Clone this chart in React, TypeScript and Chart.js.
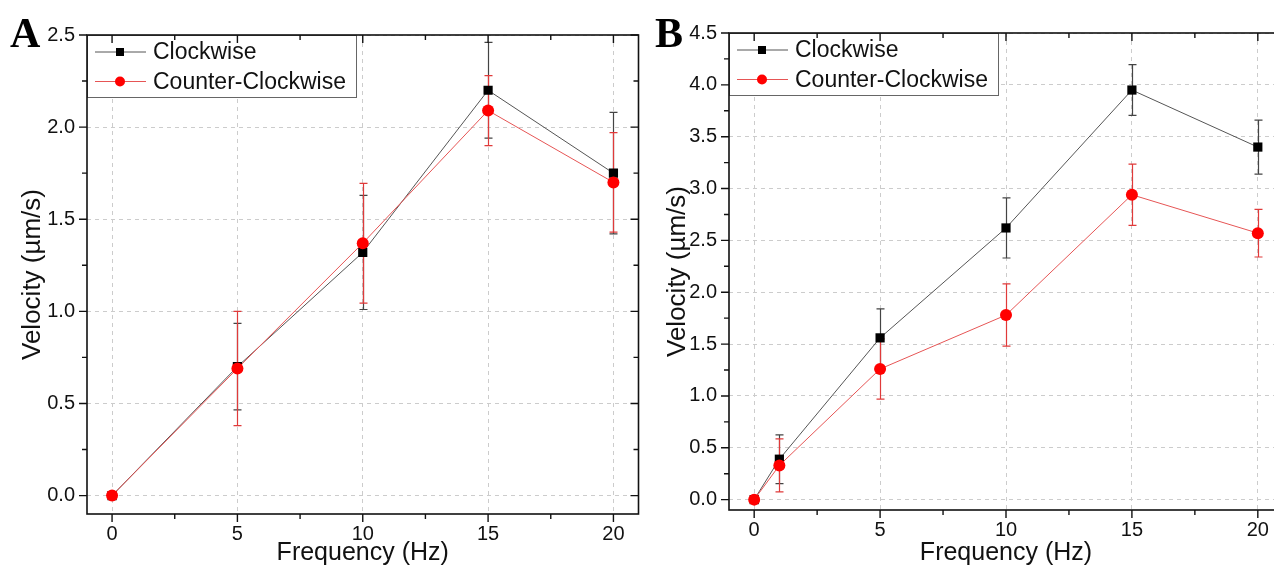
import React, { useEffect, useRef } from "react";
import { Chart, registerables } from "chart.js";

Chart.register(...registerables);

const FONT = '"Liberation Sans", Arial, Helvetica, sans-serif';

// ---------- data ----------
const seriesLabels = ["Clockwise", "Counter-Clockwise"];

const freqA = [0, 5, 10, 15, 20];
const cwA = [0, 0.7, 1.32, 2.2, 1.75];
const cwErrA = [0, 0.235, 0.31, 0.26, 0.33];
const ccwA = [0, 0.69, 1.37, 2.09, 1.7];
const ccwErrA = [0, 0.31, 0.325, 0.19, 0.27];

const freqB = [0, 1, 5, 10, 15, 20];
const cwB = [0, 0.39, 1.56, 2.62, 3.95, 3.4];
const cwErrB = [0, 0.235, 0.28, 0.29, 0.245, 0.26];
const ccwB = [0, 0.33, 1.26, 1.78, 2.94, 2.57];
const ccwErrB = [0, 0.255, 0.29, 0.3, 0.295, 0.23];

// ---------- ticks ----------
const xTicks = [0, 5, 10, 15, 20];
const xMinorTicks = [2.5, 7.5, 12.5, 17.5];
const yTicksA = [0, 0.5, 1.0, 1.5, 2.0, 2.5];
const yMinorA = [0.25, 0.75, 1.25, 1.75, 2.25];
const yTicksB = [0, 0.5, 1.0, 1.5, 2.0, 2.5, 3.0, 3.5, 4.0, 4.5];
const yMinorB = [0.25, 0.75, 1.25, 1.75, 2.25, 2.75, 3.25, 3.75, 4.25];

const xTitle = "Frequency (Hz)";
const yTitle = "Velocity (\u00b5m/s)";

const panelA = {
  letter: "A",
  freq: freqA, cw: cwA, cwErr: cwErrA, ccw: ccwA, ccwErr: ccwErrA,
  yMin: -0.1, yMax: 2.5, yTicks: yTicksA, yMinor: yMinorA,
  left: 0, yAxisWidth: 87, padTop: 35, padRight: 5, xAxisHeight: 53,
};
const panelB = {
  letter: "B",
  freq: freqB, cw: cwB, cwErr: cwErrB, ccw: ccwB, ccwErr: ccwErrB,
  yMin: -0.1, yMax: 4.5, yTicks: yTicksB, yMinor: yMinorB,
  left: 645, yAxisWidth: 84, padTop: 33, padRight: 7, xAxisHeight: 57,
};

const CANVAS_W = 645;
const CANVAS_H = 567;

const decorPlugin = {
  id: "panelDecor",
  beforeDatasetsDraw(chart: any) {
    const ctx = chart.ctx;
    const xs = chart.scales.x;
    const ys = chart.scales.y;
    chart.data.datasets.forEach((ds: any) => {
      ctx.save();
      ctx.strokeStyle = ds.errColor;
      ctx.lineWidth = 1.2;
      ds.data.forEach((p: any, j: number) => {
        const e = ds.errors[j];
        if (!e) return;
        const x = Math.round(xs.getPixelForValue(p.x)) + 0.5;
        const yt = ys.getPixelForValue(p.y + e);
        const yb = ys.getPixelForValue(p.y - e);
        ctx.beginPath();
        ctx.moveTo(x, yt);
        ctx.lineTo(x, yb);
        ctx.moveTo(x - 4, yt);
        ctx.lineTo(x + 4, yt);
        ctx.moveTo(x - 4, yb);
        ctx.lineTo(x + 4, yb);
        ctx.stroke();
      });
      ctx.restore();
    });
  },
  afterDraw(chart: any, _args: any, opts: any) {
    const ctx = chart.ctx;
    const { left, right, top, bottom } = chart.chartArea;
    const xs = chart.scales.x;
    const ys = chart.scales.y;
    ctx.save();

    // legend
    ctx.font = `23px ${FONT}`;
    const labels = chart.data.datasets.map((d: any) => d.label);
    const maxW = Math.max(...labels.map((l: string) => ctx.measureText(l).width));
    const lw = 66 + maxW + 10;
    const lh = 62;
    ctx.fillStyle = "#fff";
    ctx.fillRect(left, top, lw, lh);
    ctx.strokeStyle = "#666";
    ctx.lineWidth = 1;
    ctx.strokeRect(left + 0.5, top + 0.5, lw, lh);
    chart.data.datasets.forEach((ds: any, i: number) => {
      const y = top + 17 + i * 29.5;
      ctx.strokeStyle = ds.borderColor;
      ctx.lineWidth = 1;
      ctx.beginPath();
      ctx.moveTo(left + 8, y);
      ctx.lineTo(left + 59, y);
      ctx.stroke();
      ctx.fillStyle = ds.pointBackgroundColor;
      if (ds.pointStyle === "rect") {
        ctx.fillRect(left + 33 - 4, y - 4, 8, 8);
      } else {
        ctx.beginPath();
        ctx.arc(left + 33, y, 5, 0, Math.PI * 2);
        ctx.fill();
      }
      ctx.fillStyle = "#111";
      ctx.textBaseline = "middle";
      ctx.textAlign = "left";
      ctx.fillText(ds.label, left + 66, y + 1);
    });

    // frame
    ctx.strokeStyle = "#111";
    ctx.lineWidth = 1.6;
    ctx.strokeRect(left, top, right - left, bottom - top);

    // ticks
    ctx.lineWidth = 1.4;
    const drawX = (v: number, len: number) => {
      const x = xs.getPixelForValue(v);
      ctx.beginPath();
      ctx.moveTo(x, bottom);
      ctx.lineTo(x, bottom + len);
      ctx.moveTo(x, top);
      ctx.lineTo(x, top + len);
      ctx.stroke();
    };
    const drawY = (v: number, len: number) => {
      const y = ys.getPixelForValue(v);
      ctx.beginPath();
      ctx.moveTo(left - len, y);
      ctx.lineTo(left, y);
      ctx.moveTo(right, y);
      ctx.lineTo(right - len, y);
      ctx.stroke();
    };
    opts.xMajor.forEach((v: number) => drawX(v, 8));
    opts.xMinor.forEach((v: number) => drawX(v, 5));
    opts.yMajor.forEach((v: number) => drawY(v, 8));
    opts.yMinor.forEach((v: number) => drawY(v, 5));

    // panel letter
    ctx.fillStyle = "#000";
    ctx.font = `bold 42px "Liberation Serif", "Times New Roman", serif`;
    ctx.textBaseline = "alphabetic";
    ctx.textAlign = "left";
    ctx.fillText(opts.letter, 10, 47);

    ctx.restore();
  },
};

function Panel({ cfg }: { cfg: any }) {
  const ref = useRef<HTMLCanvasElement>(null);
  useEffect(() => {
    const canvas = ref.current!;
    const chart = new Chart(canvas, {
      type: "line",
      data: {
        datasets: [
          {
            label: seriesLabels[0],
            data: cfg.freq.map((x: number, i: number) => ({ x, y: cfg.cw[i] })),
            errors: cfg.cwErr,
            errColor: "#444",
            borderColor: "#555",
            borderWidth: 1,
            pointStyle: "rect",
            pointRadius: 6.5,
            pointBackgroundColor: "#000",
            pointBorderColor: "#000",
            pointBorderWidth: 0,
            tension: 0,
            order: 2,
          } as any,
          {
            label: seriesLabels[1],
            data: cfg.freq.map((x: number, i: number) => ({ x, y: cfg.ccw[i] })),
            errors: cfg.ccwErr,
            errColor: "#e03a3a",
            borderColor: "#e65555",
            borderWidth: 1,
            pointStyle: "circle",
            pointRadius: 6,
            pointBackgroundColor: "#ff0000",
            pointBorderColor: "#ff0000",
            pointBorderWidth: 0,
            tension: 0,
            order: 1,
          } as any,
        ],
      },
      options: {
        responsive: false,
        animation: false,
        events: [],
        layout: { padding: { top: cfg.padTop, right: cfg.padRight, left: 0, bottom: 0 } },
        plugins: {
          legend: { display: false },
          tooltip: { enabled: false },
          panelDecor: {
            letter: cfg.letter,
            xMajor: xTicks,
            xMinor: xMinorTicks,
            yMajor: cfg.yTicks,
            yMinor: cfg.yMinor,
          },
        } as any,
        scales: {
          x: {
            type: "linear",
            min: -1,
            max: 21,
            afterBuildTicks: (s: any) => {
              s.ticks = xTicks.map((v) => ({ value: v }));
            },
            afterFit: (s: any) => {
              s.height = cfg.xAxisHeight;
            },
            ticks: {
              font: { family: FONT, size: 20 },
              color: "#111",
              padding: 8,
              maxRotation: 0,
              autoSkip: false,
              callback: (v: any) => String(v),
            },
            grid: { color: "#cccccc", lineWidth: 1, drawTicks: false },
            border: { display: false, dash: [4, 4] },
            title: {
              display: true,
              text: xTitle,
              font: { family: FONT, size: 25 },
              color: "#111",
              padding: { top: 0, bottom: -1 },
            },
          },
          y: {
            type: "linear",
            min: cfg.yMin,
            max: cfg.yMax,
            afterBuildTicks: (s: any) => {
              s.ticks = cfg.yTicks.map((v: number) => ({ value: v }));
            },
            afterFit: (s: any) => {
              s.width = cfg.yAxisWidth;
            },
            ticks: {
              font: { family: FONT, size: 20 },
              color: "#111",
              padding: 12,
              autoSkip: false,
              callback: (v: any) => Number(v).toFixed(1),
            },
            grid: { color: "#cccccc", lineWidth: 1, drawTicks: false },
            border: { display: false, dash: [4, 4] },
            title: {
              display: true,
              text: yTitle,
              font: { family: FONT, size: 26 },
              color: "#111",
              padding: { top: 17, bottom: 0 },
            },
          },
        },
      } as any,
      plugins: [decorPlugin as any],
    });
    return () => chart.destroy();
  }, []);
  return (
    <canvas
      ref={ref}
      width={CANVAS_W}
      height={CANVAS_H}
      style={{ position: "absolute", left: cfg.left, top: 0, width: CANVAS_W, height: CANVAS_H }}
    />
  );
}

export default function App() {
  return (
    <div
      style={{
        position: "fixed",
        left: 0,
        top: 0,
        width: 1274,
        height: 567,
        overflow: "hidden",
        background: "#fff",
      }}
    >
      <Panel cfg={panelA} />
      <Panel cfg={panelB} />
    </div>
  );
}
